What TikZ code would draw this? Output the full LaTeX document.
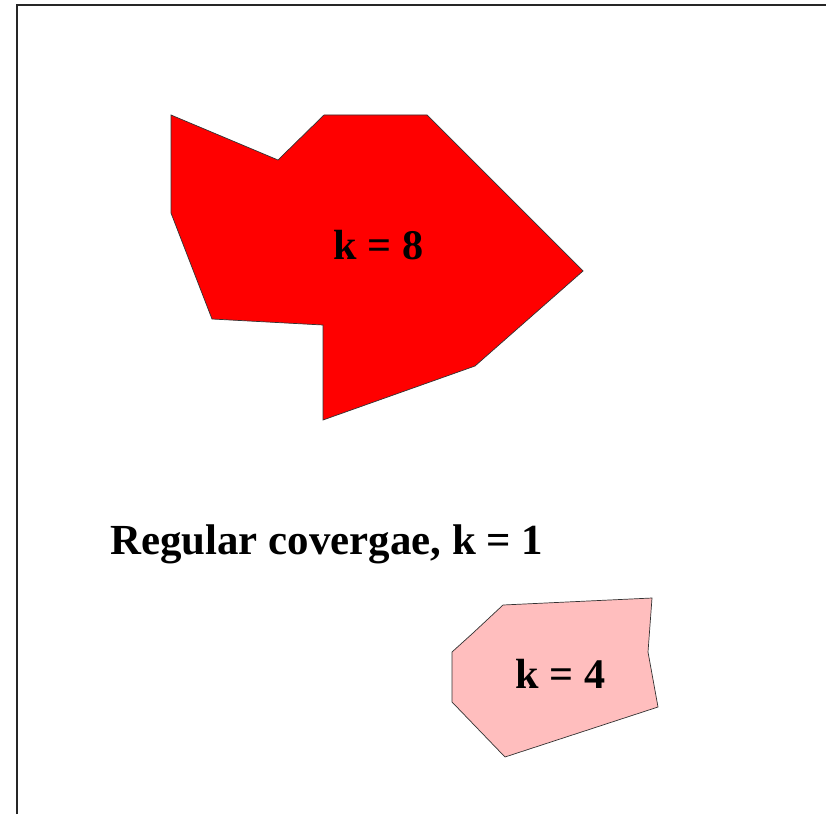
\documentclass[tikz,border=0pt]{standalone}
\usepackage{fontspec}
\setmainfont{Liberation Serif}
\usepackage{tikz}
\usetikzlibrary{positioning}
\definecolor{hotRed}{RGB}{255,0,0}
\definecolor{paleRed}{RGB}{255,190,190}
\tikzstyle{frameLine} = [line width=1.6pt, draw=black!85]
\tikzstyle{region} = [line width=0.5pt, draw=black!80, line join=miter]
\tikzstyle{kLabel} = [anchor=base, inner sep=0pt, font=\bfseries\fontsize{30}{36}\selectfont]

\begin{document}
\begin{tikzpicture}[x=0.025cm, y=-0.025cm]

    \useasboundingbox (0,0) rectangle (826,814);

    % frame
    \draw [frameLine] (17,814) -- (17,5) -- (826,5);

    % k = 8 region
    \draw [region, fill=hotRed] (171,115) -- (278,160) -- (324,115) -- (427,115)
        -- (583,271) -- (475,366) -- (323,420) -- (323,325) -- (212,319)
        -- (171,213) -- cycle;

    % k = 4 region
    \draw [region, fill=paleRed] (503,605) -- (652,598) -- (648,652) -- (658,707)
        -- (505,757) -- (452,702) -- (452,652) -- (473,633) -- cycle;

    \node (kEight) [kLabel] at (378.5,259) {k = 8};
    \node (kFour) [kLabel] at (560.5,688) {k = 4};
    \node (regular) [kLabel, anchor=base west, font=\bfseries\fontsize{30.5}{36}\selectfont] at (110,554) {Regular covergae, k = 1};

\end{tikzpicture}
\end{document}
